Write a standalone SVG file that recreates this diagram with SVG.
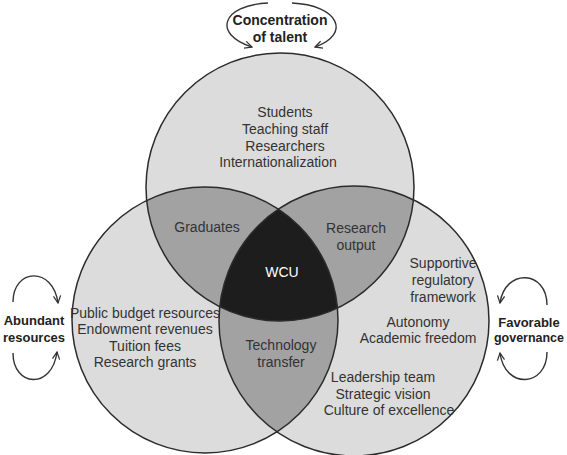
<svg xmlns="http://www.w3.org/2000/svg" width="567" height="455" viewBox="0 0 567 455">
<style>
.base{fill:#dcdcdc}
.two{fill:#a2a2a2}
.three{fill:#1d1d1d}
.ring{fill:none;stroke:#2b2b2b;stroke-width:1.5}
.t{font-family:"Liberation Sans",Arial,sans-serif;font-size:14px;fill:#333;text-anchor:middle}
.w{fill:#fff}
.b{font-family:"Liberation Sans",Arial,sans-serif;font-size:14px;font-weight:bold;fill:#222;text-anchor:middle}
.s{font-size:13px}
.arr{fill:none;stroke:#333;stroke-width:1.4;marker-end:url(#ah)}
</style>
<defs>
<clipPath id="cT"><circle cx="280" cy="187" r="134"/></clipPath>
<clipPath id="cL"><circle cx="205" cy="320" r="133"/></clipPath>
<clipPath id="cR"><circle cx="354" cy="321" r="135"/></clipPath>
<marker id="ah" viewBox="0 0 10 10" refX="9" refY="5" markerWidth="9" markerHeight="9" markerUnits="userSpaceOnUse" orient="auto">
<path d="M1,1 L9,5 L1,9" fill="none" stroke="#333" stroke-width="1.4"/>
</marker>
</defs>
<rect width="567" height="455" fill="#fff"/>
<g id="circles">
<circle class="base" cx="280" cy="187" r="134"/>
<circle class="base" cx="205" cy="320" r="133"/>
<circle class="base" cx="354" cy="321" r="135"/>
<circle class="two" cx="205" cy="320" r="133" clip-path="url(#cT)"/>
<circle class="two" cx="354" cy="321" r="135" clip-path="url(#cT)"/>
<circle class="two" cx="205" cy="320" r="133" clip-path="url(#cR)"/>
<g clip-path="url(#cT)"><circle class="three" cx="205" cy="320" r="133" clip-path="url(#cR)"/></g>
<circle class="ring" cx="280" cy="187" r="134"/>
<circle class="ring" cx="205" cy="320" r="133"/>
<circle class="ring" cx="354" cy="321" r="135"/>
</g>
<g id="talent">
<text class="t" x="285" y="117">Students</text>
<text class="t" x="285" y="134">Teaching staff</text>
<text class="t" x="285" y="151">Researchers</text>
<text class="t" x="278" y="167">Internationalization</text>
</g>
<g id="resources">
<text class="t" x="145" y="318">Public budget resources</text>
<text class="t" x="145" y="334">Endowment revenues</text>
<text class="t" x="145" y="351">Tuition fees</text>
<text class="t" x="145" y="367">Research grants</text>
</g>
<g id="governance">
<text class="t" x="443" y="268">Supportive</text>
<text class="t" x="443" y="285">regulatory</text>
<text class="t" x="443" y="302">framework</text>
<text class="t" x="418" y="327">Autonomy</text>
<text class="t" x="418" y="343">Academic freedom</text>
<text class="t" x="383" y="382">Leadership team</text>
<text class="t" x="383" y="399">Strategic vision</text>
<text class="t" x="389" y="415">Culture of excellence</text>
</g>
<g id="graduates"><text class="t" x="207" y="232">Graduates</text></g>
<g id="research-output">
<text class="t" x="356" y="233">Research</text>
<text class="t" x="356" y="250">output</text>
</g>
<g id="technology-transfer">
<text class="t" x="281" y="350">Technology</text>
<text class="t" x="281" y="367">transfer</text>
</g>
<g id="wcu"><text class="t w" x="282" y="277">WCU</text></g>
<g id="label-talent">
<text class="b" x="280" y="25">Concentration</text>
<text class="b" x="280" y="42">of talent</text>
</g>
<g id="label-resources">
<text class="b s" x="34" y="325">Abundant</text>
<text class="b s" x="34" y="342">resources</text>
</g>
<g id="label-governance">
<text class="b s" x="529" y="327">Favorable</text>
<text class="b s" x="529" y="342" textLength="70" lengthAdjust="spacingAndGlyphs">governance</text>
</g>
<g id="connectors">
<path class="arr" d="M268,3 C222,5 212,34 252,47"/>
<path class="arr" d="M292,3 C338,5 352,34 315,47"/>
<path class="arr" d="M13,302 C13,268 53,266 58,303"/>
<path class="arr" d="M13,353 C13,387 52,390 57,352"/>
<path class="arr" d="M547,305 C547,270 505,268 500,303"/>
<path class="arr" d="M547,352 C547,387 505,390 500,353"/>
</g>
</svg>
